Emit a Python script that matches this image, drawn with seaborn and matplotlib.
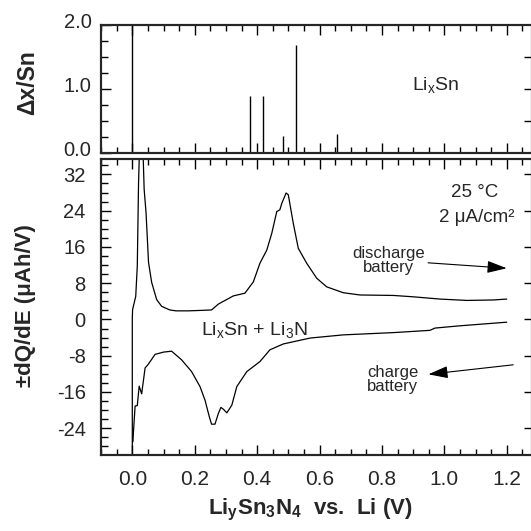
import matplotlib
matplotlib.use('Agg')
import matplotlib.pyplot as plt
import matplotlib.transforms as mtransforms
from matplotlib.ticker import MultipleLocator, NullFormatter
import seaborn as sns

# top panel: sticks (voltage, delta x per Sn)
stick_v = [0.0, 0.377, 0.418, 0.482, 0.525, 0.655]
stick_dx = [2.1, 0.895, 0.895, 0.27, 1.69, 0.30]

# discharge branch (upper curve)
dis_v = [0.0, 0.0, 0.001, 0.011, 0.016, 0.020, 0.024, 0.033, 0.038, 0.044, 0.052, 0.062,
         0.078, 0.094, 0.12, 0.14, 0.18, 0.22, 0.254, 0.276, 0.30, 0.324, 0.361, 0.388,
         0.409, 0.431, 0.447, 0.463, 0.473, 0.479, 0.493, 0.50, 0.516, 0.532, 0.559,
         0.591, 0.623, 0.676, 0.73, 0.837, 0.90, 0.986, 1.072, 1.157, 1.20]
dis_q = [-31.0, 0.4, 2.2, 5.1, 11.8, 30.0, 40.0, 40.0, 28.7, 23.6, 12.6, 8.2,
         4.4, 2.9, 2.1, 1.9, 1.9, 2.0, 2.1, 3.4, 4.3, 5.2, 5.8, 8.3,
         12.4, 15.3, 19.0, 23.8, 24.2, 25.6, 27.9, 27.5, 21.2, 15.7, 12.4,
         9.1, 7.2, 5.9, 5.4, 5.3, 5.0, 4.5, 4.2, 4.3, 4.5]

# charge branch (lower curve)
chg_v = [0.002, 0.004, 0.009, 0.016, 0.022, 0.030, 0.041, 0.051, 0.073, 0.10, 0.126,
         0.158, 0.19, 0.217, 0.233, 0.247, 0.254, 0.265, 0.276, 0.284, 0.292, 0.303,
         0.319, 0.335, 0.367, 0.409, 0.441, 0.484, 0.57, 0.676, 0.837, 0.954, 0.97,
         1.05, 1.20]
chg_q = [-27.0, -24.5, -19.1, -19.0, -14.7, -16.4, -10.7, -9.9, -7.7, -7.2, -7.0,
         -8.9, -11.5, -14.8, -17.8, -21.5, -23.1, -23.1, -20.7, -19.4, -19.8, -20.6,
         -18.9, -14.8, -11.5, -9.3, -6.7, -5.4, -4.1, -3.4, -2.9, -2.4, -1.9,
         -1.4, -0.6]

sns.set_theme(style='ticks')
plt.rcParams['font.family'] = ['Liberation Sans', 'DejaVu Sans']
plt.rcParams['mathtext.fontset'] = 'custom'
plt.rcParams['mathtext.rm'] = 'Liberation Sans'
plt.rcParams['mathtext.bf'] = 'Liberation Sans:bold'
plt.rcParams['mathtext.default'] = 'regular'

W = 531.0
fig = plt.figure(figsize=(5.31, 5.31), dpi=100)
left = 101.1 / W
width = (532 - 101.1) / W
ax1 = fig.add_axes([left, 1 - 153 / W, width, 128 / W])
ax2 = fig.add_axes([left, 1 - 455 / W, width, 296 / W])

xmax = (532 - 132.3) / 312.0

# top panel
ax1.vlines(stick_v, 0, stick_dx, color='black', lw=1.0)
ax1.set_xlim(-0.1, xmax)
ax1.set_ylim(0, 2.0)

# bottom panel
sns.lineplot(x=dis_v, y=dis_q, sort=False, estimator=None, color='black', lw=0.9, ax=ax2)
sns.lineplot(x=chg_v, y=chg_q, sort=False, estimator=None, color='black', lw=0.9, ax=ax2)
ax2.set_xlim(-0.1, xmax)
ax2.set_ylim(-29.9, 35.4)

for ax in (ax1, ax2):
    for s in ax.spines.values():
        s.set_linewidth(1.5)
        s.set_color('black')
    ax.xaxis.set_major_locator(MultipleLocator(0.2))
    ax.xaxis.set_minor_locator(MultipleLocator(0.05))
    ax.tick_params(axis='x', which='both', direction='in', top=True, bottom=True,
                   color='black', width=1.0)
    ax.tick_params(axis='x', which='major', length=7)
    ax.tick_params(axis='x', which='minor', length=4)
    ax.tick_params(axis='y', which='both', direction='in', left=True, right=False,
                   color='black', width=1.0, labelsize=14.5)
    ax.tick_params(axis='y', which='major', length=7)
    ax.tick_params(axis='y', which='minor', length=5)

ax1.xaxis.set_major_formatter(NullFormatter())
ax1.yaxis.set_major_locator(MultipleLocator(1.0))
ax1.yaxis.set_minor_locator(MultipleLocator(0.25))
ax1.set_yticks([0, 1, 2])
ax1.set_yticklabels(['0.0', '1.0', '2.0'])
ax1.tick_params(axis='y', which='major', pad=7)

ax2.yaxis.set_major_locator(MultipleLocator(8))
ax2.yaxis.set_minor_locator(MultipleLocator(2))
ax2.set_yticks([-24, -16, -8, 0, 8, 16, 24, 32])
ax2.set_yticklabels(['-24', '-16', '-8', '0', '8', '16', '24', '32'])
ax2.set_xticks([0.0, 0.2, 0.4, 0.6, 0.8, 1.0, 1.2])
ax2.set_xticklabels(['0.0', '0.2', '0.4', '0.6', '0.8', '1.0', '1.2'])
ax2.tick_params(axis='y', which='major', pad=11)
ax2.tick_params(axis='x', which='major', pad=11, labelsize=15)

# shift top panel y labels upward a bit like the original
off = mtransforms.ScaledTranslation(0, 5 / 100.0, fig.dpi_scale_trans)
for t in ax1.yaxis.get_major_ticks():
    t.label1.set_transform(t.label1.get_transform() + off)

# right side ticks
r1 = ax1.twinx()
r1.set_ylim(ax1.get_ylim())
r1.set_yticks([0.5, 1.0, 1.5])
r1.yaxis.set_major_formatter(NullFormatter())
r1.tick_params(axis='y', direction='in', length=6, width=1.0, color='black')
r2 = ax2.twinx()
r2.set_ylim(ax2.get_ylim())
r2.set_yticks([-24, -16, -8, 0, 8, 16, 24, 32])
r2.yaxis.set_major_formatter(NullFormatter())
r2.tick_params(axis='y', direction='in', length=6, width=1.0, color='black')
for r in (r1, r2):
    r.grid(False)
    for s in r.spines.values():
        s.set_linewidth(1.5)

ax1.set_xlabel('')
ax2.set_xlabel('')
ax2.set_ylabel('')

# annotations
ax1.text(0.973, 0.98, r'Li$_x$Sn', ha='center', va='baseline', fontsize=14)
ax2.text(0.39, -3.4, r'Li$_x$Sn + Li$_3$N', ha='center', va='baseline', fontsize=14)
ax2.text(1.098, 27.1, '25 °C', ha='center', va='baseline', fontsize=13.5)
ax2.text(1.105, 21.6, '2 μA/cm²', ha='center', va='baseline', fontsize=13.5)
ax2.text(0.82, 13.0, 'discharge\nbattery', ha='center', va='center', fontsize=12,
         linespacing=0.95)
ax2.text(0.835, -13.3, 'charge\nbattery', ha='center', va='center', fontsize=12,
         linespacing=0.95)
arrow = dict(arrowstyle='-|>,head_length=0.8,head_width=0.25', color='black', lw=0.8,
             shrinkA=0, shrinkB=0, mutation_scale=15)
ax2.annotate('', xy=(1.2, 11.3), xytext=(0.948, 12.5), arrowprops=arrow)
ax2.annotate('', xy=(0.949, -12.1), xytext=(1.221, -10.0), arrowprops=arrow)

# axis titles
fig.text(28 / W, 1 - 82.5 / W, 'Δx/Sn', rotation=90, ha='center', va='center',
         fontsize=16.5, fontweight='bold')
fig.text(26 / W, 1 - 306 / W, '±dQ/dE (μAh/V)', rotation=90, ha='center', va='center',
         fontsize=16, fontweight='bold')
fig.text(310 / W, 1 - 510 / W, r'Li$_y$Sn$_3$N$_4$  vs.  Li (V)', ha='center', va='center',
         fontsize=16, fontweight='bold')

fig.savefig('out.png', dpi=100, facecolor='white')
